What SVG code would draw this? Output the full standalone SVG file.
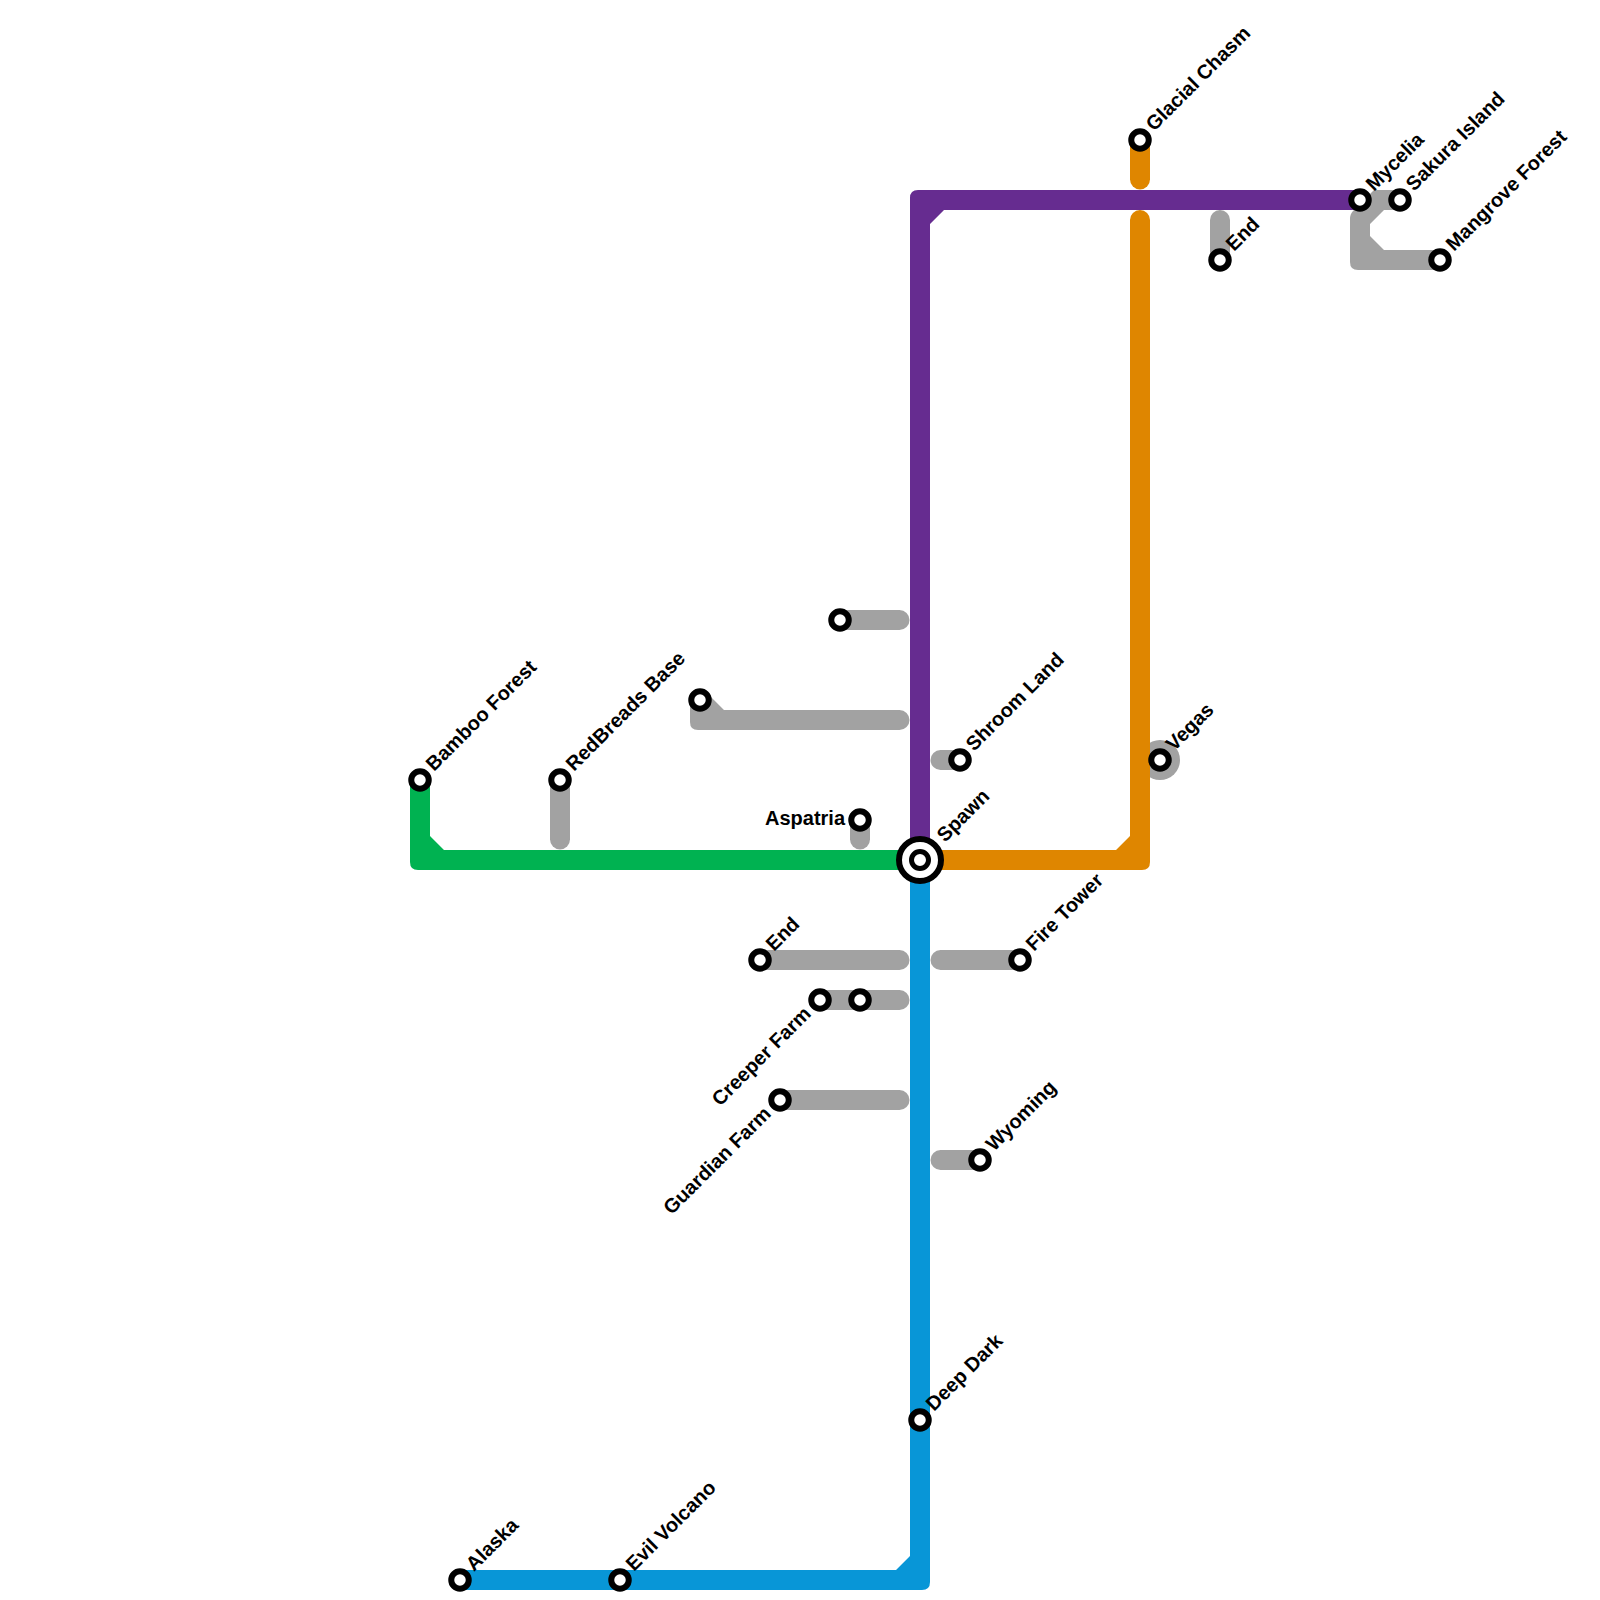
<svg xmlns="http://www.w3.org/2000/svg" width="1600" height="1600" viewBox="0 0 1600 1600">
<style>
.bg{fill:#fff}
.grey{fill:#a2a2a2}
.gl{fill:none;stroke:#a2a2a2;stroke-width:20;stroke-linecap:round}
.st{fill:#fff;stroke:#000;stroke-width:6}
text{font-family:"Liberation Sans",Arial,sans-serif;font-weight:700;font-size:20px;fill:#000}
.e{text-anchor:end}
</style>
<rect class="bg" width="1600" height="1600"/>
<g id="connectors">
<path class="gl" d="M840,620H899.5"/>
<path class="grey" d="M700,690L710,696L724,710H899.5A10,10 0 0 1 899.5,730H698Q690,730 690,722V700Z"/>
<path class="gl" d="M940.5,760H960"/>
<path class="gl" d="M860,820V839.5"/>
<path class="gl" d="M560,780V839.5"/>
<path class="gl" d="M760,960H899.5"/>
<path class="gl" d="M940.5,960H1020"/>
<path class="gl" d="M820,1000H899.5"/>
<path class="gl" d="M780,1100H899.5"/>
<path class="gl" d="M940.5,1160H980"/>
<path class="gl" d="M1220,220V260"/>
<circle class="grey" cx="1160" cy="760" r="20"/>
<path class="grey" d="M1400,190H1374L1353,211Q1350,214 1350,219V262Q1350,270 1358,270H1440V250H1384L1370,236V224L1384,210H1400Z"/>
<path id="line-green" fill="#00b251" d="M410,780H430V836L444,850H920V870H418Q410,870 410,862Z"/>
<path id="line-orange" fill="#df8600" d="M920,850H1116L1130,836V220A10,10 0 0 1 1150,220V862Q1150,870 1142,870H920Z"/>
<path id="line-orange-top" fill="none" stroke="#df8600" stroke-width="20" stroke-linecap="round" d="M1140,140V179.5"/>
<path id="line-purple" fill="#662c90" d="M920,860H910V198Q910,190 918,190H1360V210H944L930,224V860Z"/>
<path id="line-blue" fill="#0896d7" d="M910,860H930V1582Q930,1590 922,1590H460V1570H896L910,1556Z"/>
</g>
<g id="spawn"><circle cx="920" cy="860" r="21" fill="#fff" stroke="#000" stroke-width="6"/><circle cx="920" cy="860" r="8.5" fill="#fff" stroke="#000" stroke-width="5"/><text transform="translate(945,843) rotate(-45)">Spawn</text></g>
<g id="bamboo-forest"><circle class="st" cx="420" cy="780" r="8.75"/><text transform="translate(434,772) rotate(-45)">Bamboo Forest</text></g>
<g id="redbreads-base"><circle class="st" cx="560" cy="780" r="8.75"/><text transform="translate(574,772) rotate(-45)">RedBreads Base</text></g>
<g id="unnamed-1"><circle class="st" cx="700" cy="700" r="8.75"/></g>
<g id="unnamed-2"><circle class="st" cx="840" cy="620" r="8.75"/></g>
<g id="shroom-land"><circle class="st" cx="960" cy="760" r="8.75"/><text transform="translate(974,752) rotate(-45)">Shroom Land</text></g>
<g id="aspatria"><circle class="st" cx="860" cy="820" r="8.75"/><text class="e" x="845" y="825">Aspatria</text></g>
<g id="glacial-chasm"><circle class="st" cx="1140" cy="140" r="8.75"/><text transform="translate(1154,132) rotate(-45)">Glacial Chasm</text></g>
<g id="end-north"><circle class="st" cx="1220" cy="260" r="8.75"/><text transform="translate(1234,252) rotate(-45)">End</text></g>
<g id="mycelia"><circle class="st" cx="1360" cy="200" r="8.75"/><text transform="translate(1374,192) rotate(-45)">Mycelia</text></g>
<g id="sakura-island"><circle class="st" cx="1400" cy="200" r="8.75"/><text transform="translate(1414,192) rotate(-45)">Sakura Island</text></g>
<g id="mangrove-forest"><circle class="st" cx="1440" cy="260" r="8.75"/><text transform="translate(1454,252) rotate(-45)">Mangrove Forest</text></g>
<g id="vegas"><circle class="st" cx="1160" cy="760" r="8.75"/><text transform="translate(1174,752) rotate(-45)">Vegas</text></g>
<g id="end-south"><circle class="st" cx="760" cy="960" r="8.75"/><text transform="translate(774,952) rotate(-45)">End</text></g>
<g id="fire-tower"><circle class="st" cx="1020" cy="960" r="8.75"/><text transform="translate(1034,952) rotate(-45)">Fire Tower</text></g>
<g id="creeper-farm"><circle class="st" cx="820" cy="1000" r="8.75"/><text class="e" transform="translate(812,1015) rotate(-45)">Creeper Farm</text></g>
<g id="unnamed-3"><circle class="st" cx="860" cy="1000" r="8.75"/></g>
<g id="guardian-farm"><circle class="st" cx="780" cy="1100" r="8.75"/><text class="e" transform="translate(772,1115) rotate(-45)">Guardian Farm</text></g>
<g id="wyoming"><circle class="st" cx="980" cy="1160" r="8.75"/><text transform="translate(994,1152) rotate(-45)">Wyoming</text></g>
<g id="deep-dark"><circle class="st" cx="920" cy="1420" r="8.75"/><text transform="translate(934,1412) rotate(-45)">Deep Dark</text></g>
<g id="evil-volcano"><circle class="st" cx="620" cy="1580" r="8.75"/><text transform="translate(634,1572) rotate(-45)">Evil Volcano</text></g>
<g id="alaska"><circle class="st" cx="460" cy="1580" r="8.75"/><text transform="translate(474,1572) rotate(-45)">Alaska</text></g>
</svg>
